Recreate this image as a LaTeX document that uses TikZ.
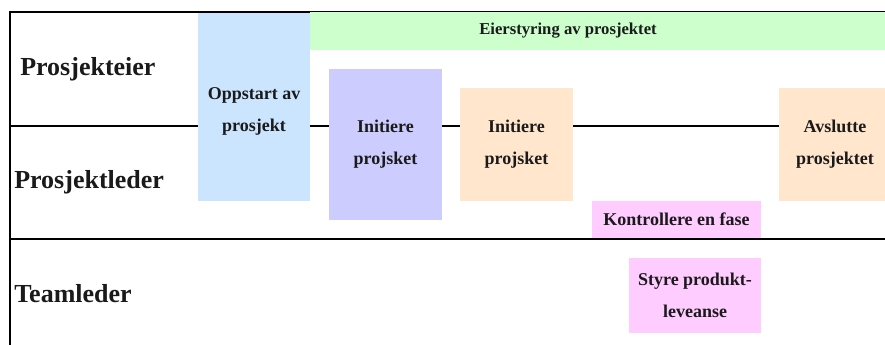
\documentclass[tikz,border=0pt]{standalone}
\usepackage{fontspec}
\setmainfont{Liberation Serif}
\definecolor{cstart}{HTML}{CCE5FF}
\definecolor{cowner}{HTML}{CCFFCC}
\definecolor{cinit}{HTML}{CCCCFF}
\definecolor{cpeach}{HTML}{FFE6CC}
\definecolor{cpink}{HTML}{FFCCFF}
\definecolor{ctext}{HTML}{1A1A1A}
\tikzset{
  lane/.style={line width=1.5pt, black},
  lanelabel/.style={anchor=base west, inner sep=0pt, text=ctext,
    font={\fontsize{19.5pt}{22pt}\selectfont\bfseries}},
  task/.style={inner sep=0pt, outer sep=0pt, draw=none, align=center, text=ctext,
    font={\fontsize{13.5pt}{24pt}\selectfont\bfseries}},
}
\begin{document}
\begin{tikzpicture}[x=0.75pt, y=-0.75pt]
\useasboundingbox (0,0) rectangle (885,345);
\clip (0,0) rectangle (885,345);

% swimlane frame
\coordinate (tl) at (10,12);
\coordinate (tr) at (885,12);
\coordinate (bl) at (10,345);
\coordinate (m1l) at (10,126);
\coordinate (m1r) at (885,126);
\coordinate (m2l) at (10,239);
\coordinate (m2r) at (885,239);
\draw[lane] (m1l) -- (m1r);
\draw[lane] (m2l) -- (m2r);
\draw[lane] (bl) -- (tl) -- (tr);

% lane titles
\node[lanelabel] (owner) at (20,76) {Prosjekteier};
\node[lanelabel] (pm) at (14,189) {Prosjektleder};
\node[lanelabel] (team) at (14,302) {Teamleder};

% process boxes
\node[task, fill=cowner, minimum width=431.25pt, minimum height=28.5pt] (eier) at (597.5,31.5) {};
\node[task, font={\fontsize{12.5pt}{15pt}\selectfont\bfseries}] (eiertxt) at (568,31) {Eierstyring av prosjektet};
\node[task, fill=cstart, minimum width=84pt, minimum height=141pt] (start) at (254,107) {};
\node[task] (starttxt) at (254,111) {Oppstart av\\prosjekt};
\node[task, fill=cinit, minimum width=84.75pt, minimum height=113.25pt] (init1) at (385.5,144.5) {Initiere\\projsket};
\node[task, fill=cpeach, minimum width=84.75pt, minimum height=84.75pt] (init2) at (516.5,144.5) {Initiere\\projsket};
\node[task, fill=cpeach, minimum width=84.75pt, minimum height=84.75pt] (close) at (835,144.5) {Avslutte\\prosjektet};
\node[task, fill=cpink, minimum width=126.75pt, minimum height=27.75pt] (ctrl) at (676.5,219.5) {Kontrollere en fase};
\node[task, fill=cpink, minimum width=99pt, minimum height=56.25pt] (deliver) at (695,295.5) {Styre produkt-\\leveanse};
\end{tikzpicture}
\end{document}
